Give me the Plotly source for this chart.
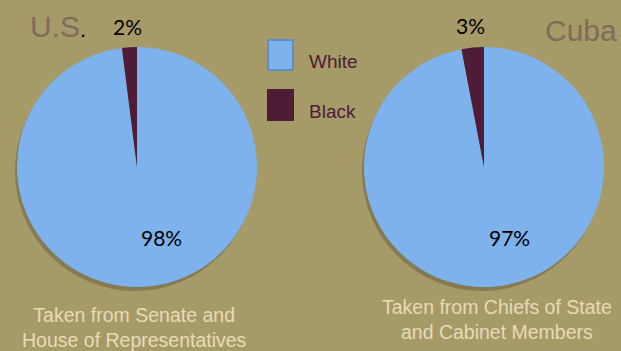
import plotly.graph_objects as go

categories = ["White", "Black"]
us_values = [98, 2]
cuba_values = [97, 3]
colors = ["#7DB2EC", "#4E1C36"]

BG = "#A79A69"
W, H = 621, 351

def dom(cx, cy, r):
    return dict(x=[(cx - r) / W, (cx + r) / W], y=[1 - (cy + r) / H, 1 - (cy - r) / H])

fig = go.Figure()
for vals, d in [(us_values, dom(137, 167, 120)), (cuba_values, dom(484, 167, 120))]:
    fig.add_trace(go.Pie(labels=categories, values=vals, sort=False, direction="clockwise",
                         rotation=0, textinfo="none", hoverinfo="label+percent",
                         marker=dict(colors=colors, line=dict(width=0)),
                         domain=d, showlegend=False))

pct_font = dict(family="Lato, Noto Sans", size=21, color="black")
ann = []
ann.append(dict(x=127 / W, y=1 - 27 / H, text=f"{us_values[1]}%", font=pct_font))
ann.append(dict(x=161 / W, y=1 - 237 / H, text=f"{us_values[0]}%", font=pct_font))
ann.append(dict(x=470 / W, y=1 - 25 / H, text=f"{cuba_values[1]}%", font=pct_font))
ann.append(dict(x=509 / W, y=1 - 237 / H, text=f"{cuba_values[0]}%", font=pct_font))

title_font = dict(family="Liberation Sans", size=30, color="#7E6B5B")
ann.append(dict(x=28 / W, y=1 - 27 / H, xanchor="left", text="U.S<span style='color:black;font-size:22px'>.</span>", font=title_font))
ann.append(dict(x=619 / W, y=1 - 31 / H, xanchor="right", text="Cuba", font=title_font))

cap_font = dict(family="Liberation Sans", size=19.5, color="#E8DBB8")
ann.append(dict(x=134 / W, y=1 - 327 / H, text="Taken from Senate and<br>House of Representatives", font=cap_font))
ann.append(dict(x=497 / W, y=1 - 319 / H, text="Taken from Chiefs of State<br>and Cabinet Members", font=cap_font))

leg_font = dict(family="Liberation Sans", size=19, color="#4E1C36")
shapes = []
for i, cat in enumerate(categories):
    y0 = 40 + i * 50
    shapes.append(dict(type="rect", xref="paper", yref="paper",
                       x0=268 / W, x1=293 / W, y0=1 - (y0 + 30) / H, y1=1 - y0 / H,
                       fillcolor=colors[i], line=dict(color="#5B8FC8" if i == 0 else colors[i], width=2)))
    ann.append(dict(x=307 / W, y=1 - (y0 + 21) / H, xanchor="left", text=cat, font=leg_font))

for cx in (137, 484):
    shapes.insert(0, dict(type="circle", xref="paper", yref="paper", layer="below",
                          x0=(cx - 122) / W, x1=(cx + 118) / W, y0=1 - (167 + 124) / H, y1=1 - (167 - 116) / H,
                          fillcolor="rgba(60,50,30,0.3)", line=dict(width=0)))

for a in ann:
    a.setdefault("xref", "paper")
    a.setdefault("yref", "paper")
    a.setdefault("showarrow", False)
    a.setdefault("xanchor", "center")
    a.setdefault("yanchor", "middle")
    a.setdefault("align", "center")

fig.update_layout(width=W, height=H, margin=dict(l=0, r=0, t=0, b=0),
                  paper_bgcolor=BG, plot_bgcolor=BG, annotations=ann, shapes=shapes)
fig.write_html("out.html")
